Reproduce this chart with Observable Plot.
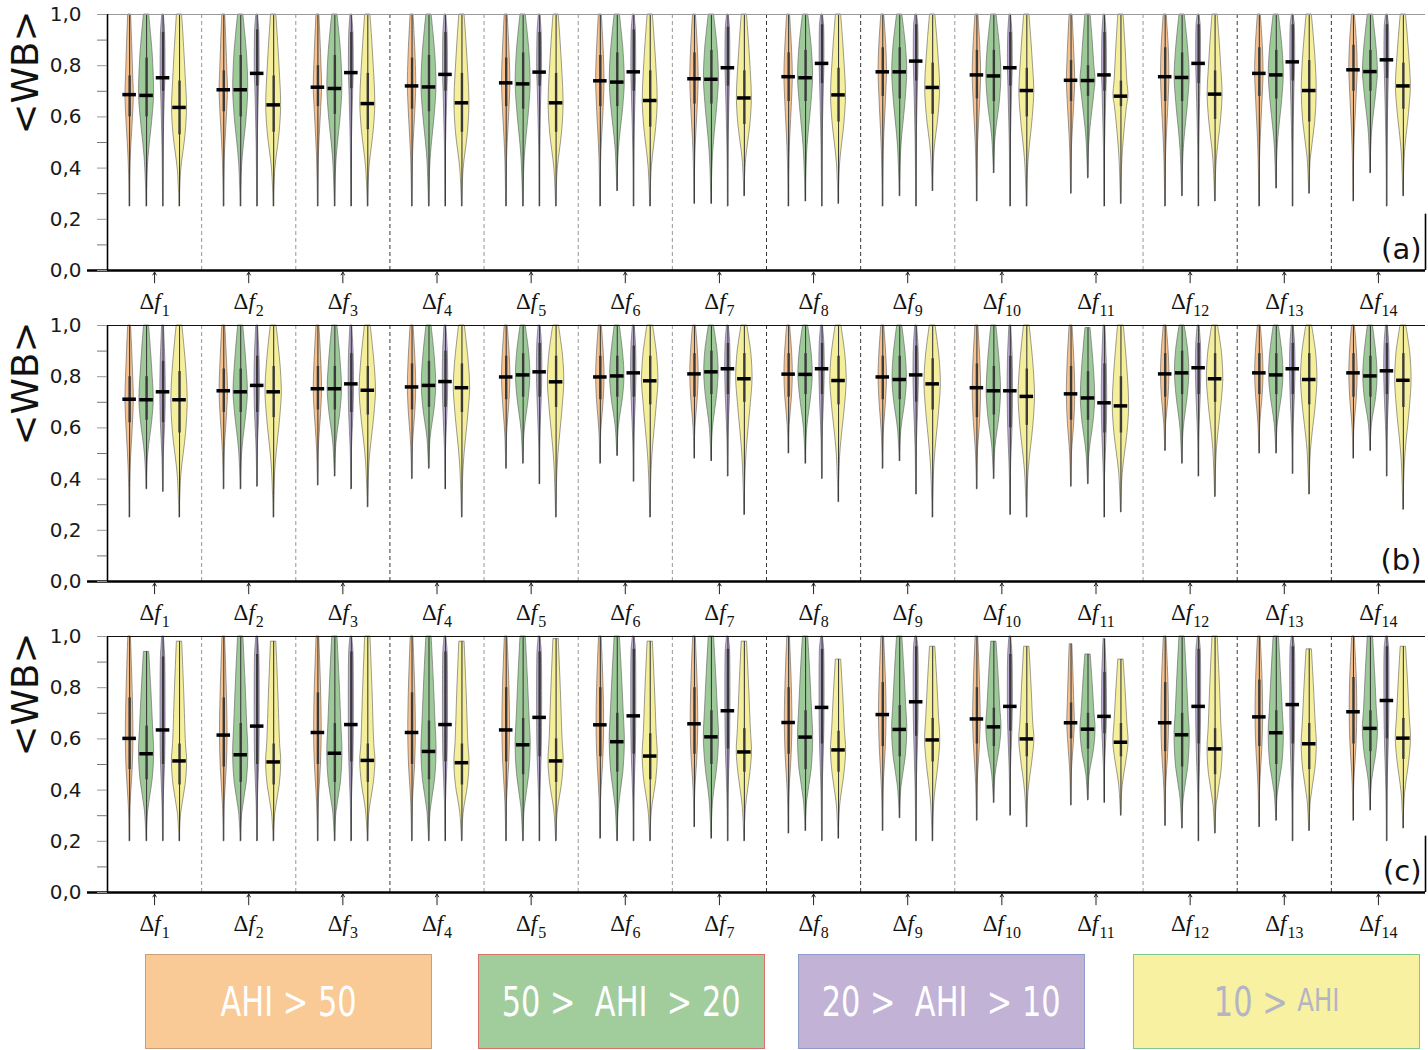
<!DOCTYPE html>
<html><head><meta charset="utf-8">
<script src="https://cdn.jsdelivr.net/npm/d3@7"></script>
<script src="https://cdn.jsdelivr.net/npm/@observablehq/plot@0.6"></script>
<style>
html,body{margin:0;padding:0;background:#fff;}
body{width:1428px;height:1050px;position:relative;overflow:hidden;}
#charts svg{display:block;}
.lg{position:absolute;top:954px;height:95px;box-sizing:border-box;display:flex;align-items:center;justify-content:center;
 font-family:"DejaVu Sans",sans-serif;font-size:40px;color:#fff;white-space:pre;}
.lg .inner{display:inline-block;transform:scaleX(0.76);transform-origin:center;}
</style></head>
<body><div id="charts"></div><div id="legend"></div>
<script>
// ---------- data ----------
const groupIds = [1,2,3,4,5,6,7,8,9,10,11,12,13,14];
const classNames = ["AHI > 50", "50 >  AHI  > 20", "20 >  AHI  > 10", "10 > AHI"];
const yTicks = [0, 0.2, 0.4, 0.6, 0.8, 1.0];
const yTickLabels = ["0,0", "0,2", "0,4", "0,6", "0,8", "1,0"];
const yMinorTicks = [0.1, 0.3, 0.5, 0.7, 0.9];
const panelTags = ["(a)", "(b)", "(c)"];

// rows: [AHI>50, 50>AHI>20, 20>AHI>10, 10>AHI]; columns: Δf1..Δf14
// panel (a)
const medA = [
 [0.687,0.706,0.716,0.721,0.733,0.741,0.749,0.757,0.776,0.764,0.743,0.757,0.770,0.784],
 [0.684,0.706,0.711,0.717,0.729,0.736,0.747,0.753,0.776,0.760,0.742,0.754,0.764,0.777],
 [0.753,0.770,0.773,0.766,0.775,0.776,0.792,0.809,0.818,0.792,0.764,0.809,0.815,0.823],
 [0.637,0.647,0.652,0.655,0.655,0.664,0.674,0.686,0.715,0.703,0.681,0.689,0.703,0.721]];
const q1A = [
 [0.60,0.62,0.64,0.63,0.64,0.64,0.65,0.66,0.68,0.67,0.66,0.66,0.68,0.70],
 [0.60,0.60,0.61,0.62,0.63,0.64,0.65,0.66,0.67,0.66,0.68,0.66,0.67,0.70],
 [0.70,0.72,0.71,0.70,0.72,0.70,0.72,0.73,0.74,0.72,0.70,0.73,0.74,0.75],
 [0.53,0.54,0.55,0.54,0.54,0.56,0.57,0.58,0.61,0.60,0.64,0.59,0.58,0.63]];
const q3A = [
 [0.76,0.78,0.80,0.83,0.83,0.84,0.85,0.85,0.87,0.86,0.82,0.87,0.87,0.88],
 [0.83,0.84,0.84,0.84,0.85,0.85,0.86,0.86,0.87,0.86,0.80,0.85,0.86,0.86],
 [0.93,0.94,0.93,0.93,0.93,0.94,0.95,0.96,0.96,0.93,0.93,0.96,0.96,0.96],
 [0.74,0.76,0.77,0.77,0.77,0.78,0.78,0.79,0.81,0.79,0.74,0.78,0.82,0.81]];
const loA = [
 [0.25,0.25,0.25,0.25,0.25,0.25,0.26,0.25,0.25,0.27,0.30,0.25,0.25,0.27],
 [0.25,0.25,0.25,0.25,0.25,0.31,0.26,0.27,0.29,0.38,0.36,0.29,0.32,0.38],
 [0.25,0.25,0.25,0.25,0.25,0.25,0.25,0.25,0.25,0.25,0.25,0.25,0.25,0.25],
 [0.25,0.25,0.25,0.25,0.25,0.25,0.29,0.26,0.31,0.25,0.26,0.27,0.30,0.29]];
const hiA = [
 [1,1,1,1,1,1,1,1,1,1,1,1,1,1],
 [1,1,1,1,1,1,1,1,1,1,1,1,1,1],
 [1,1,1,1,1,1,1,1,1,1,1,1,1,1],
 [1,1,1,1,1,1,1,1,1,1,1,1,1,1]];
// panel (b)
const medB = [
 [0.712,0.745,0.753,0.760,0.799,0.799,0.811,0.810,0.799,0.757,0.733,0.811,0.815,0.815],
 [0.710,0.741,0.753,0.766,0.807,0.803,0.819,0.809,0.789,0.745,0.717,0.815,0.807,0.803],
 [0.741,0.766,0.772,0.781,0.819,0.815,0.831,0.831,0.807,0.745,0.698,0.835,0.831,0.823],
 [0.710,0.741,0.747,0.757,0.780,0.784,0.792,0.785,0.772,0.723,0.686,0.792,0.789,0.786]];
const q1B = [
 [0.62,0.66,0.67,0.67,0.71,0.71,0.72,0.72,0.71,0.64,0.63,0.72,0.73,0.72],
 [0.63,0.66,0.67,0.68,0.72,0.72,0.73,0.73,0.71,0.65,0.63,0.73,0.73,0.72],
 [0.62,0.66,0.66,0.68,0.72,0.72,0.73,0.73,0.70,0.60,0.58,0.73,0.73,0.73],
 [0.58,0.64,0.65,0.66,0.68,0.69,0.70,0.69,0.67,0.61,0.58,0.70,0.69,0.68]];
const q3B = [
 [0.80,0.83,0.84,0.85,0.88,0.88,0.89,0.89,0.88,0.85,0.84,0.89,0.89,0.89],
 [0.80,0.83,0.84,0.86,0.89,0.88,0.90,0.89,0.88,0.84,0.82,0.90,0.89,0.88],
 [0.86,0.88,0.89,0.90,0.93,0.92,0.93,0.93,0.92,0.88,0.85,0.93,0.93,0.93],
 [0.82,0.84,0.84,0.85,0.88,0.88,0.89,0.88,0.87,0.83,0.80,0.89,0.89,0.89]];
const loB = [
 [0.25,0.36,0.375,0.40,0.44,0.46,0.48,0.50,0.44,0.36,0.37,0.51,0.50,0.48],
 [0.36,0.36,0.41,0.44,0.46,0.49,0.47,0.46,0.47,0.40,0.38,0.46,0.50,0.51],
 [0.35,0.37,0.36,0.36,0.38,0.39,0.41,0.40,0.34,0.26,0.25,0.41,0.42,0.41],
 [0.25,0.25,0.29,0.25,0.25,0.25,0.26,0.31,0.25,0.25,0.27,0.33,0.34,0.28]];
const hiB = [
 [1,1,1,1,1,1,1,1,1,1,1,1,1,1],
 [1,1,1,1,1,1,1,1,1,1,0.99,1,1,1],
 [1,1,1,1,1,1,1,1,1,1,1,1,1,1],
 [1,1,1,1,1,1,1,1,1,1,1,1,1,1]];
// panel (c)
const medC = [
 [0.602,0.615,0.625,0.625,0.635,0.655,0.659,0.664,0.695,0.678,0.663,0.663,0.686,0.706],
 [0.542,0.538,0.544,0.551,0.577,0.589,0.608,0.607,0.637,0.647,0.638,0.616,0.624,0.641],
 [0.635,0.650,0.656,0.656,0.684,0.690,0.710,0.723,0.745,0.727,0.688,0.727,0.734,0.750],
 [0.514,0.510,0.516,0.507,0.514,0.533,0.549,0.557,0.596,0.600,0.587,0.561,0.581,0.603]];
const q1C = [
 [0.48,0.49,0.50,0.50,0.51,0.53,0.54,0.54,0.57,0.58,0.60,0.55,0.57,0.58],
 [0.44,0.43,0.43,0.44,0.46,0.47,0.50,0.48,0.53,0.57,0.56,0.49,0.50,0.55],
 [0.50,0.50,0.51,0.51,0.53,0.54,0.56,0.58,0.61,0.63,0.62,0.58,0.58,0.60],
 [0.42,0.42,0.43,0.42,0.43,0.44,0.47,0.47,0.51,0.53,0.53,0.46,0.48,0.52]];
const q3C = [
 [0.76,0.76,0.78,0.78,0.80,0.80,0.80,0.80,0.82,0.80,0.74,0.82,0.83,0.84],
 [0.65,0.66,0.66,0.67,0.68,0.70,0.71,0.71,0.73,0.72,0.70,0.70,0.71,0.71],
 [0.92,0.93,0.94,0.94,0.94,0.95,0.95,0.95,0.96,0.93,0.86,0.95,0.96,0.96],
 [0.58,0.58,0.58,0.58,0.60,0.62,0.64,0.63,0.68,0.66,0.66,0.64,0.66,0.68]];
const loC = [
 [0.20,0.20,0.20,0.20,0.20,0.21,0.255,0.23,0.24,0.28,0.34,0.26,0.255,0.28],
 [0.20,0.20,0.20,0.20,0.20,0.20,0.21,0.24,0.29,0.35,0.36,0.25,0.28,0.32],
 [0.20,0.20,0.20,0.20,0.20,0.20,0.20,0.20,0.20,0.30,0.35,0.20,0.20,0.20],
 [0.20,0.20,0.20,0.20,0.20,0.20,0.20,0.21,0.20,0.255,0.30,0.23,0.24,0.25]];
const hiC = [
 [1,1,1,1,1,1,1,1,1,1,0.97,1,1,1],
 [0.94,1,1,1,1,1,1,1,1,0.98,0.93,1,1,1],
 [1,1,1,1,1,1,1,1,1,1,0.99,1,1,1],
 [0.98,0.98,1,0.98,0.99,0.98,0.98,0.91,0.96,0.96,0.91,1,0.95,0.96]];

// ---------- styling / layout ----------
const violinFill = ["#f6c28f", "#9dca98", "#bcadd5", "#f5ee9b"];
const legendFill = ["#f9c996", "#a1cc9c", "#c1b2d6", "#f7f1a1"];
const legendBorder = ["#c9a07a", "#d9706a", "#8e9ac8", "#7fc98a"];
const legendText = ["#ffffff", "#ffffff", "#ffffff", "#b4b4c4"];
const classOffset = [-0.265, -0.085, 0.09, 0.265];
const halfWidthPx = [[4.2, 7.5, 2.4, 7.5], [4.2, 7.2, 2.7, 8.2], [3.8, 7.6, 2.5, 7.6]];
const W = 1428, H = 311, ML = 107, MR = 3, MT = 14, MB = 41;
const pxPerGroup = (W - ML - MR) / 14;
const darkSeps = [3.5, 7.5, 8.5, 12.5, 13.5];
const lightSeps = [1.5, 2.5, 4.5, 5.5, 6.5, 9.5, 11.5];

const panels = [
  {med: medA, q1: q1A, q3: q3A, lo: loA, hi: hiA, top: "#9a9a9a", rightBorder: true},
  {med: medB, q1: q1B, q3: q3B, lo: loB, hi: hiB, top: "#111", rightBorder: false},
  {med: medC, q1: q1C, q3: q3C, lo: loC, hi: hiC, top: "#111", rightBorder: true}
];

function outline(r) {
  const k = [
    [r.lo, 0.0],
    [r.lo + 0.5 * (r.q1 - r.lo), 0.22],
    [r.q1, 0.8],
    [r.med, 1.0],
    [r.q3, 0.85],
    [r.q3 + 0.5 * (r.hi - r.q3), 0.62],
    [r.hi, 0.35]
  ];
  return k.map(([v, f]) => ({id: r.id, v, x1: r.pos - f * r.w, x2: r.pos + f * r.w}));
}

const tickLabel = new Map(yTicks.map((t, i) => [t, yTickLabels[i]]));

panels.forEach((P, pi) => {
  const rows = [];
  for (let c = 0; c < 4; c++) {
    groupIds.forEach((g, gi) => {
      rows.push({
        id: c * 100 + g, cls: c, g, pos: g + classOffset[c],
        med: P.med[c][gi], q1: P.q1[c][gi], q3: P.q3[c][gi], lo: P.lo[c][gi], hi: P.hi[c][gi],
        w: halfWidthPx[pi][c] / pxPerGroup
      });
    });
  }
  const violinMarks = [0, 1, 2, 3].map(c =>
    Plot.areaX(rows.filter(r => r.cls === c).flatMap(outline), {
      y: "v", x1: "x1", x2: "x2", z: "id", curve: "catmull-rom",
      fill: violinFill[c], stroke: "#5a5a5a", strokeWidth: 0.6
    })
  );
  const marks = [
    Plot.ruleX(lightSeps, {stroke: "#8a8a8a", strokeDasharray: "4,3", strokeWidth: 0.9}),
    Plot.ruleX(darkSeps, {stroke: "#222", strokeDasharray: "4,3", strokeWidth: 0.9}),
    ...violinMarks,
    Plot.ruleX(rows, {x: "pos", y1: "lo", y2: "hi", stroke: "#3c3c3c", strokeWidth: 1.1}),
    Plot.ruleX(rows, {x: "pos", y1: "q1", y2: "q3", stroke: "#3a3a3a", strokeWidth: 2.4}),
    Plot.ruleY(rows, {y: "med", x1: d => d.pos - 0.072, x2: d => d.pos + 0.072, stroke: "#000", strokeWidth: 3.5}),
    Plot.ruleY([1], {stroke: P.top, strokeWidth: 1.2}),
    Plot.ruleX([0.5], {stroke: "#000", strokeWidth: 1.6}),
    Plot.ruleY([0], {x1: 0.5 - 20 / pxPerGroup, x2: 14.5, stroke: "#000", strokeWidth: 2.6}),
    Plot.ruleY(yMinorTicks, {x1: 0.5 - 10 / pxPerGroup, x2: 0.5, stroke: "#777", strokeWidth: 1}),
    Plot.axisY(yTicks, {tickSize: 10, tickPadding: 16, stroke: "#999", tickFormat: d => tickLabel.get(d),
      fontSize: 20, fontFamily: "DejaVu Sans", fill: "#1a1a1a", label: null}),
    Plot.arrow(groupIds, {x1: d => d, x2: d => d, y1: -0.048, y2: -0.006, headLength: 5, stroke: "#222", strokeWidth: 1}),
    Plot.text(groupIds, {x: d => d, y: 0, dy: 31, text: d => "Δf" + d, fontSize: 23, fontFamily: "Liberation Serif", fill: "#111"}),
    Plot.text(["<WB>"], {frameAnchor: "top-left", textAnchor: "middle", lineAnchor: "middle", dx: -81, dy: 58, rotate: -90,
      fontSize: 37, fontFamily: "DejaVu Sans", fill: "#111", text: d => d}),
    Plot.text([panelTags[pi]], {frameAnchor: "bottom-right", dx: -4, dy: -12, fontSize: 29, fontFamily: "DejaVu Sans", fill: "#111", text: d => d})
  ];
  if (P.rightBorder) marks.push(Plot.ruleX([14.5], {y1: 0, y2: 0.22, stroke: "#000", strokeWidth: 1.6}));
  const svg = Plot.plot({
    width: W, height: H, marginLeft: ML, marginRight: MR, marginTop: MT, marginBottom: MB,
    x: {type: "linear", domain: [0.5, 14.5], axis: null},
    y: {type: "linear", domain: [0, 1], axis: null},
    style: {background: "transparent", overflow: "visible"},
    marks
  });
  // rich Δf subscript labels
  svg.querySelectorAll("text").forEach(t => {
    const m = t.textContent.match(/^Δf(\d+)$/);
    if (!m) return;
    t.textContent = "";
    const ns = "http://www.w3.org/2000/svg";
    const a = document.createElementNS(ns, "tspan"); a.textContent = "Δ"; t.appendChild(a);
    const b = document.createElementNS(ns, "tspan"); b.textContent = "f"; b.setAttribute("font-style", "italic"); t.appendChild(b);
    const s = document.createElementNS(ns, "tspan"); s.textContent = m[1]; s.setAttribute("font-size", "16"); s.setAttribute("dy", "7"); s.setAttribute("dx", "1"); t.appendChild(s);
  });
  document.getElementById("charts").appendChild(svg);
});

// legend
const legendLeft = [145, 478, 798, 1133];
const legendWidth = [287, 287, 287, 287];
const lg = document.getElementById("legend");
classNames.forEach((name, i) => {
  const d = document.createElement("div");
  d.className = "lg";
  d.style.left = legendLeft[i] + "px";
  d.style.width = legendWidth[i] + "px";
  d.style.background = legendFill[i];
  d.style.border = "1px solid " + legendBorder[i];
  d.style.color = legendText[i];
  const inner = document.createElement("span");
  inner.className = "inner";
  if (i === 3) {
    const parts = name.split("AHI");
    const a = document.createElement("span"); a.textContent = parts[0];
    const b = document.createElement("span"); b.textContent = "AHI"; b.style.fontSize = "32px";
    b.style.verticalAlign = "5px";
    inner.appendChild(a); inner.appendChild(b);
  } else {
    inner.textContent = name;
  }
  d.appendChild(inner);
  lg.appendChild(d);
});
</script>
</body></html>
